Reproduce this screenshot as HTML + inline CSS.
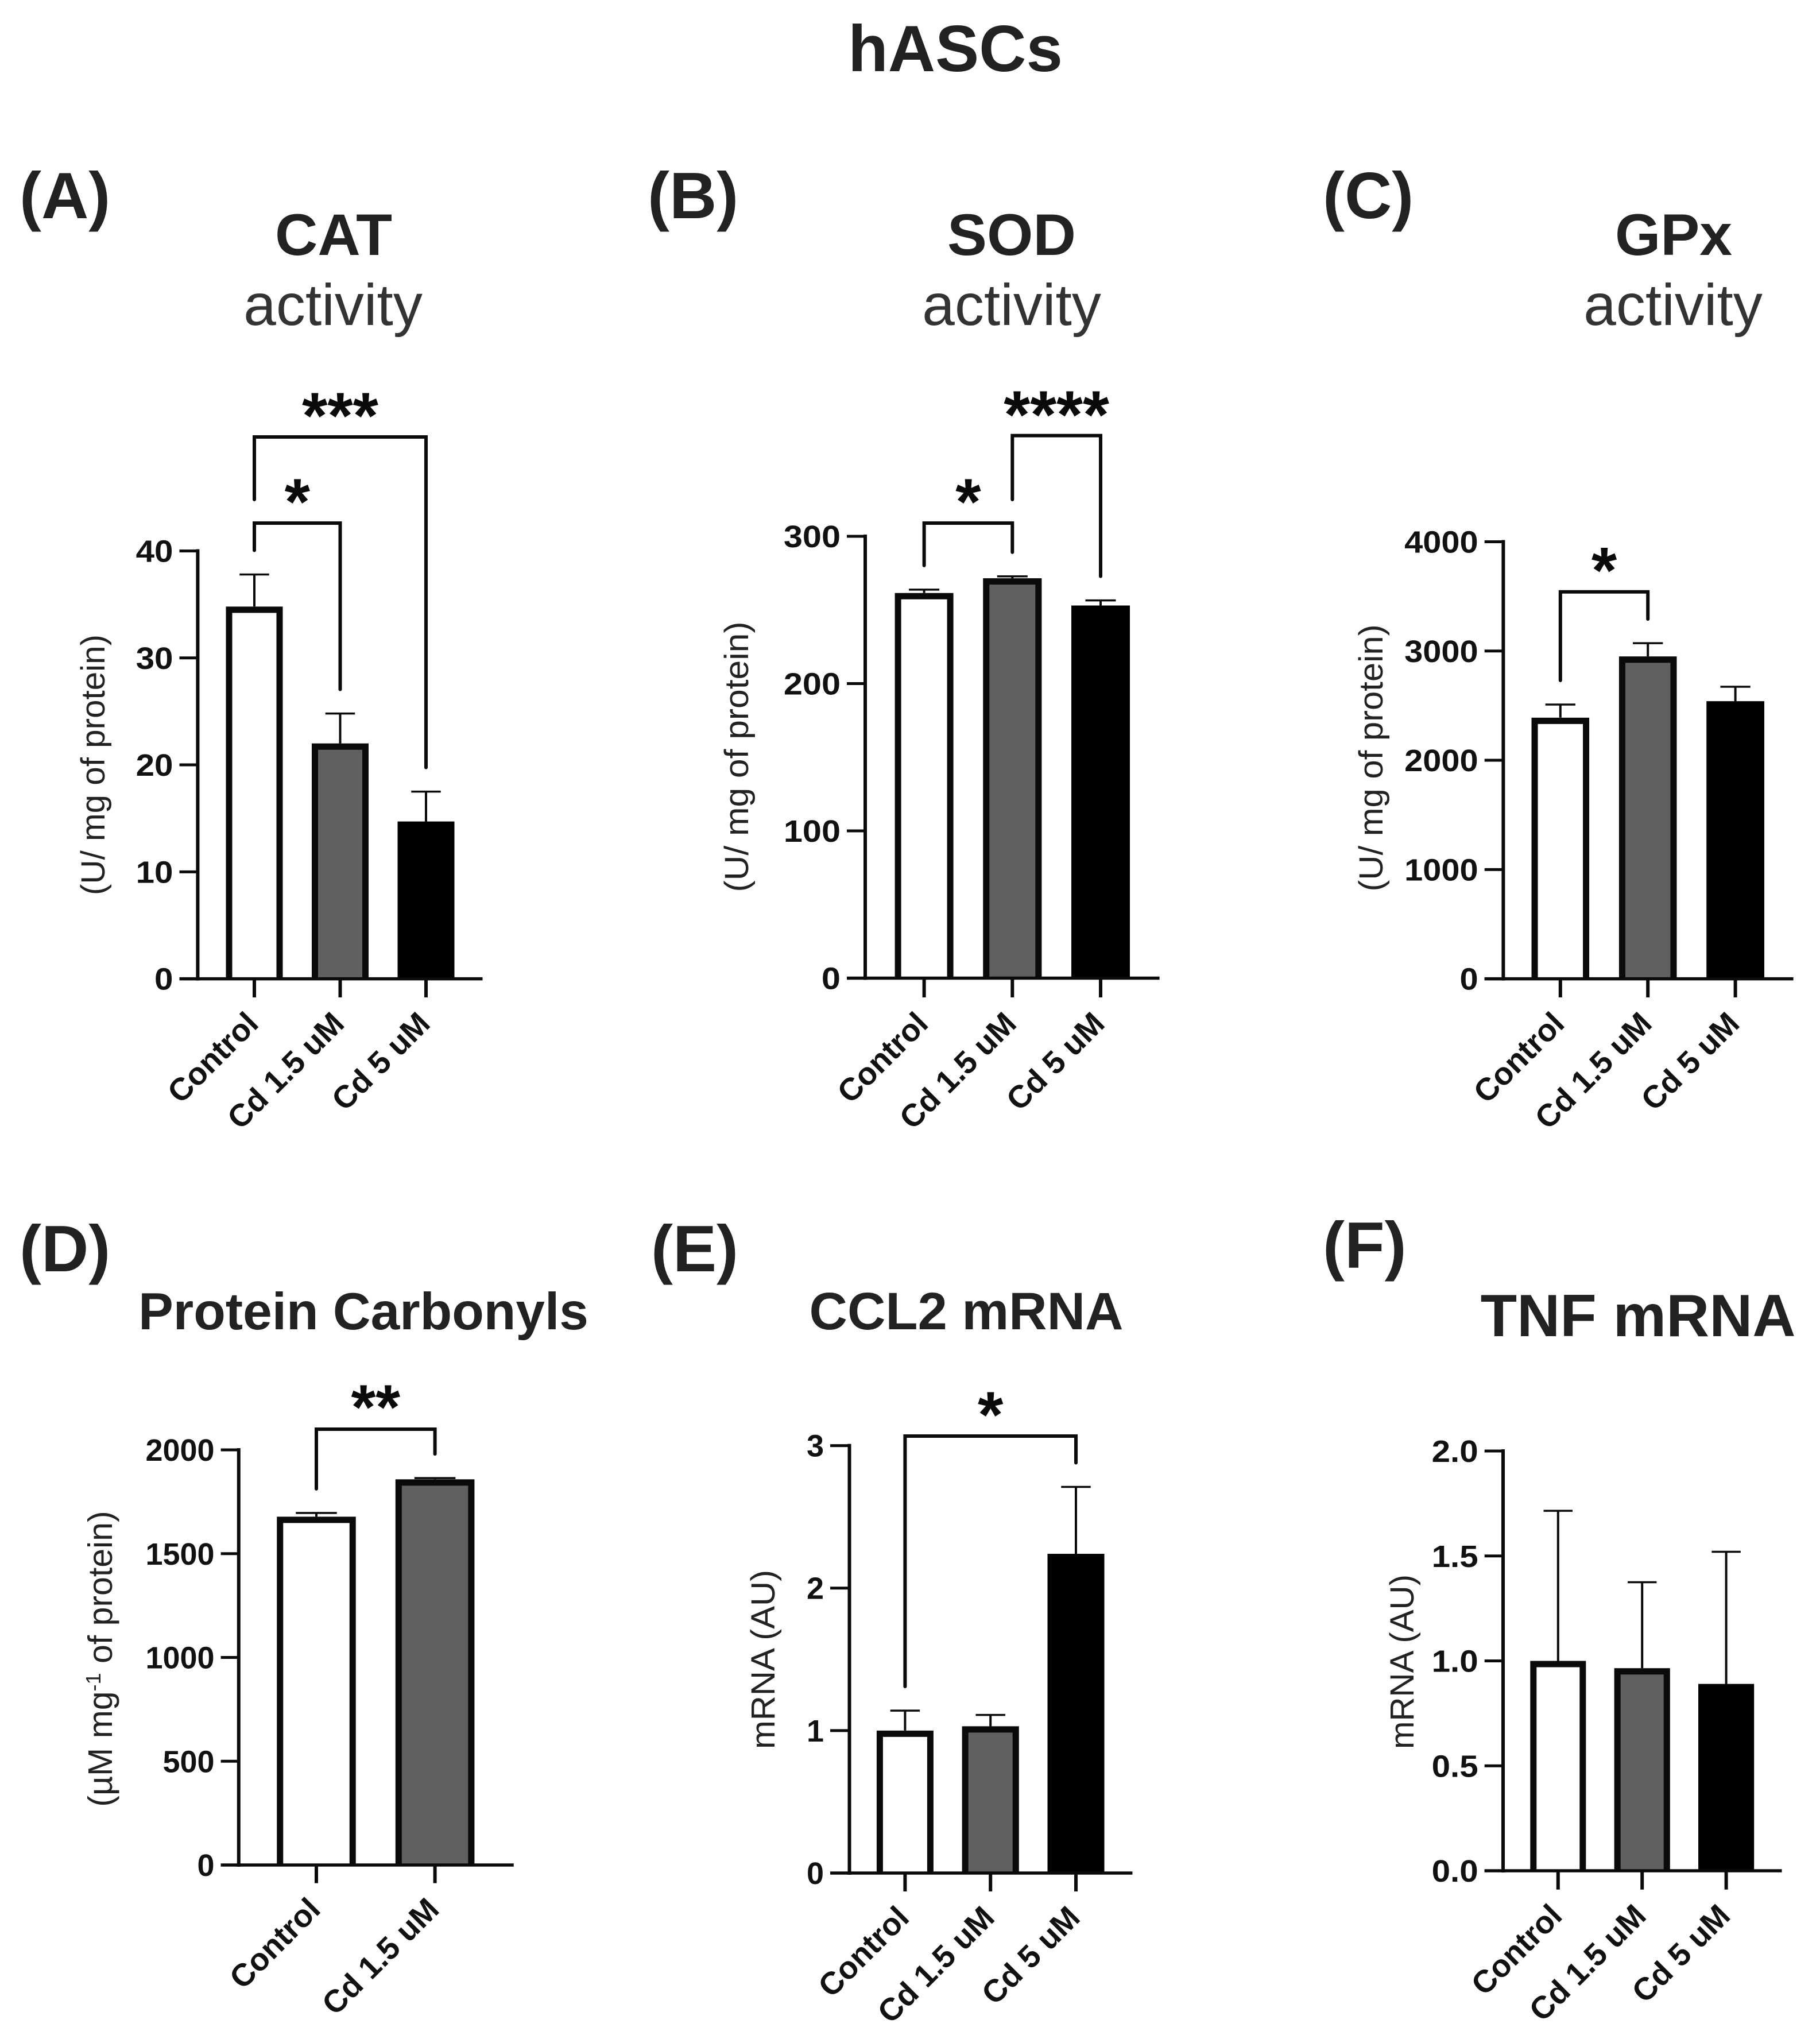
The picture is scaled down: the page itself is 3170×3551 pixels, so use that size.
<!DOCTYPE html>
<html lang="en">
<head>
<meta charset="utf-8">
<title>hASCs</title>
<style>
html,body{margin:0;padding:0;background:#fff;}
svg{display:block;font-family:"Liberation Sans",Arial,sans-serif;}
.fig{font-weight:700;fill:#222;text-anchor:middle;}
.plain{font-weight:400;fill:#333;text-anchor:middle;}
.plab{font-weight:700;fill:#222;font-size:114px;}
.ytitle{font-weight:400;fill:#222;text-anchor:middle;font-size:58px;}
</style>
</head>
<body>
<svg id="chart" xmlns="http://www.w3.org/2000/svg" width="3170" height="3551" viewBox="0 0 3170 3551">
  <rect width="3170" height="3551" fill="#fff"/>
  <text class="fig" x="1664" y="124" font-size="114">hASCs</text>

  <text class="plab" x="34" y="380">(A)</text>
  <text class="plab" x="1128" y="380">(B)</text>
  <text class="plab" x="2304" y="380">(C)</text>
  <text class="plab" x="34" y="2214">(D)</text>
  <text class="plab" x="1134" y="2214">(E)</text>
  <text class="plab" x="2304" y="2208">(F)</text>

  <text class="fig" x="581" y="444" font-size="102" textLength="204" lengthAdjust="spacingAndGlyphs">CAT</text>
  <text class="plain" x="580" y="566" font-size="102">activity</text>
  <text class="fig" x="1762" y="444" font-size="102" textLength="224" lengthAdjust="spacingAndGlyphs">SOD</text>
  <text class="plain" x="1762" y="566" font-size="102">activity</text>
  <text class="fig" x="2915" y="444" font-size="102">GPx</text>
  <text class="plain" x="2914" y="566" font-size="102">activity</text>
  <text class="fig" x="633" y="2315" font-size="91">Protein Carbonyls</text>
  <text class="fig" x="1683" y="2315" font-size="92">CCL2 mRNA</text>
  <text class="fig" x="2853" y="2327" font-size="104">TNF mRNA</text>

  <text class="ytitle" transform="translate(182 1332) rotate(-90)" textLength="454" lengthAdjust="spacingAndGlyphs">(U/ mg of protein)</text>
  <text class="ytitle" transform="translate(1303 1318) rotate(-90)" textLength="471" lengthAdjust="spacingAndGlyphs">(U/ mg of protein)</text>
  <text class="ytitle" transform="translate(2408 1320) rotate(-90)" textLength="465" lengthAdjust="spacingAndGlyphs">(U/ mg of protein)</text>
  <text class="ytitle" style="font-size:59px" transform="translate(195 2889) rotate(-90)">(µM mg<tspan dy="-20" font-size="36">-1</tspan><tspan dy="20"> of protein)</tspan></text>
  <text class="ytitle" transform="translate(1349 2890) rotate(-90)" textLength="312" lengthAdjust="spacingAndGlyphs">mRNA (AU)</text>
  <text class="ytitle" transform="translate(2462 2894) rotate(-90)" textLength="304" lengthAdjust="spacingAndGlyphs">mRNA (AU)</text>
</svg>

<script>
// ---- chart data ----
const threeGroups = ['Control', 'Cd 1.5 uM', 'Cd 5 uM'];
const twoGroups = ['Control', 'Cd 1.5 uM'];

const catValues = [34.8, 22.0, 14.7];
const catErrors = [3.0, 2.8, 2.8];
const catTicks = [0, 10, 20, 30, 40];
const catTickLabels = ['0', '10', '20', '30', '40'];

const sodValues = [261.5, 271.5, 253];
const sodErrors = [2.3, 1.3, 3.5];
const sodTicks = [0, 100, 200, 300];
const sodTickLabels = ['0', '100', '200', '300'];

const gpxValues = [2390, 2950, 2540];
const gpxErrors = [120, 122, 133];
const gpxTicks = [0, 1000, 2000, 3000, 4000];
const gpxTickLabels = ['0', '1000', '2000', '3000', '4000'];

const carbonylValues = [1678, 1858];
const carbonylErrors = [18, 6];
const carbonylTicks = [0, 500, 1000, 1500, 2000];
const carbonylTickLabels = ['0', '500', '1000', '1500', '2000'];

const ccl2Values = [1.0, 1.03, 2.24];
const ccl2Errors = [0.14, 0.08, 0.47];
const ccl2Ticks = [0, 1, 2, 3];
const ccl2TickLabels = ['0', '1', '2', '3'];

const tnfValues = [1.0, 0.965, 0.89];
const tnfErrors = [0.715, 0.41, 0.63];
const tnfTicks = [0, 0.5, 1.0, 1.5, 2.0];
const tnfTickLabels = ['0.0', '0.5', '1.0', '1.5', '2.0'];

const barFills = ['#ffffff', '#606060', '#000000'];

// ---- drawing ----
const NS = 'http://www.w3.org/2000/svg';
const root = document.getElementById('chart');

function mk(parent, tag, name, attrs, text) {
  const el = document.createElementNS(NS, tag);
  
  
  for (const k in attrs) el.setAttribute(k, attrs[k]);
  if (text !== undefined) el.textContent = text;
  parent.appendChild(el);
  return el;
}

function drawPanel(id, cats, values, errors, ticks, tickLabels, box, brackets) {
  const g = mk(root, 'g', id + '-panel', {});
  const yMax = ticks[ticks.length - 1];
  const yScale = v => box.y0 - (v / yMax) * (box.y0 - box.yTop);
  const xScale = i => box.x0 + i * box.step;
  const ink = '#0a0a0a';
  const bw = 11;
  const capW = box.barW * 0.52;

  // error bars (behind bars)
  values.forEach((v, i) => {
    const cx = xScale(i), top = yScale(v + errors[i]);
    mk(g, 'line', id + '-error-stem-' + i, {x1: cx, x2: cx, y1: yScale(v), y2: top, stroke: ink, 'stroke-width': 4});
    mk(g, 'line', id + '-error-cap-' + i, {x1: cx - capW / 2, x2: cx + capW / 2, y1: top, y2: top, stroke: ink, 'stroke-width': 3.5});
  });

  // bars: filled body with an outline on the top and both sides only
  values.forEach((v, i) => {
    const cx = xScale(i), top = yScale(v);
    const left = cx - box.barW / 2, right = cx + box.barW / 2;
    mk(g, 'rect', id + '-bar-' + i, {x: left, y: top, width: box.barW, height: Math.max(0, box.y0 - top), fill: barFills[i]});
    mk(g, 'path', id + '-bar-outline-' + i, {
      d: 'M' + (left + bw / 2) + ' ' + box.y0 + 'V' + (top + bw / 2) + 'H' + (right - bw / 2) + 'V' + box.y0,
      fill: 'none', stroke: i === 2 ? '#000' : ink, 'stroke-width': bw
    });
  });

  // axes
  mk(g, 'line', id + '-y-axis', {x1: box.axisX, x2: box.axisX, y1: box.yTop - 3, y2: box.y0 + 3, stroke: ink, 'stroke-width': 6});
  mk(g, 'line', id + '-x-axis', {x1: box.tickLeft, x2: box.xRight, y1: box.y0, y2: box.y0, stroke: ink, 'stroke-width': 5.5});

  // y ticks
  ticks.forEach((t, i) => {
    const y = yScale(t);
    mk(g, 'line', id + '-y-tick-' + i, {x1: box.tickLeft, x2: box.axisX, y1: y, y2: y, stroke: ink, 'stroke-width': 5});
    const label = mk(g, 'text', id + '-y-tick-label-' + i, {x: box.tickLeft - 11, y: y + 19, 'text-anchor': 'end', 'font-size': 54, 'font-weight': 700, fill: '#111'}, tickLabels[i]);
    if (box.tickStretch) {
      label.setAttribute('textLength', label.getComputedTextLength() * box.tickStretch);
      label.setAttribute('lengthAdjust', 'spacingAndGlyphs');
    }
  });

  // x ticks and labels
  cats.forEach((c, i) => {
    const cx = xScale(i);
    mk(g, 'line', id + '-x-tick-' + i, {x1: cx, x2: cx, y1: box.y0, y2: box.tickBottom, stroke: ink, 'stroke-width': 6});
    const lx = cx + 10, ly = box.tickBottom + 49;
    mk(g, 'text', id + '-x-label-' + i, {x: lx, y: ly, 'text-anchor': 'end', 'font-size': 55, 'font-weight': 700, fill: '#111', transform: 'rotate(-45 ' + lx + ' ' + ly + ')'}, c);
  });

  // significance brackets: ends sit a fixed gap above each error bar
  brackets.forEach((b, n) => {
    const xa = xScale(b.from), xb = xScale(b.to);
    const gap = 42;
    const ya = b.leftEnd !== undefined ? b.leftEnd : yScale(values[b.from] + errors[b.from]) - gap;
    const yb = yScale(values[b.to] + errors[b.to]) - gap;
    mk(g, 'path', id + '-bracket-' + n, {
      d: 'M' + xa + ' ' + ya + 'V' + b.top + 'H' + xb + 'V' + yb,
      fill: 'none', stroke: ink, 'stroke-width': 6, 'stroke-linecap': 'round', 'stroke-linejoin': 'miter'
    });
    const fs = b.size || 114;
    mk(g, 'text', id + '-significance-' + n, {
      x: (xa + xb) / 2, y: b.top - 62 + fs * 0.56, 'text-anchor': 'middle', 'font-size': fs, 'font-weight': 700, fill: '#0a0a0a'
    }, b.label);
  });
}

drawPanel('cat', threeGroups, catValues, catErrors, catTicks, catTickLabels,
  {axisX: 344.4, yTop: 959.5, y0: 1704.6, tickLeft: 312.5, xRight: 840.5, x0: 443, step: 149.5, barW: 99, tickBottom: 1737, tickStretch: 1.08},
  [{from: 0, to: 1, top: 911, label: '*'}, {from: 0, to: 2, top: 761, leftEnd: 870, label: '***'}]);

drawPanel('sod', threeGroups, sodValues, sodErrors, sodTicks, sodTickLabels,
  {axisX: 1507, yTop: 934, y0: 1703.5, tickLeft: 1475, xRight: 2019.6, x0: 1609.6, step: 153.7, barW: 102, tickBottom: 1737, tickStretch: 1.1},
  [{from: 0, to: 1, top: 911, label: '*'}, {from: 1, to: 2, top: 758.6, leftEnd: 870, label: '****', size: 118}]);

drawPanel('gpx', threeGroups, gpxValues, gpxErrors, gpxTicks, gpxTickLabels,
  {axisX: 2618.4, yTop: 943.5, y0: 1704.6, tickLeft: 2585.7, xRight: 3123.6, x0: 2717.8, step: 152.4, barW: 100.5, tickBottom: 1737, tickStretch: 1.07},
  [{from: 0, to: 1, top: 1030.7, label: '*'}]);

drawPanel('carbonyls', twoGroups, carbonylValues, carbonylErrors, carbonylTicks, carbonylTickLabels,
  {axisX: 415.8, yTop: 2525, y0: 3248, tickLeft: 384.6, xRight: 894.8, x0: 551, step: 206.6, barW: 137.5, tickBottom: 3279.6},
  [{from: 0, to: 1, top: 2489, label: '**', size: 110}]);

drawPanel('ccl2', threeGroups, ccl2Values, ccl2Errors, ccl2Ticks, ccl2TickLabels,
  {axisX: 1479.5, yTop: 2517.6, y0: 3262, tickLeft: 1446, xRight: 1972.4, x0: 1576.4, step: 148.8, barW: 99, tickBottom: 3294},
  [{from: 0, to: 2, top: 2501, label: '*'}]);

drawPanel('tnf', threeGroups, tnfValues, tnfErrors, tnfTicks, tnfTickLabels,
  {axisX: 2618, yTop: 2527, y0: 3258, tickLeft: 2585.7, xRight: 3103.5, x0: 2713.8, step: 146.4, barW: 97, tickBottom: 3290.7, tickStretch: 1.08},
  []);
</script>
</body>
</html>
